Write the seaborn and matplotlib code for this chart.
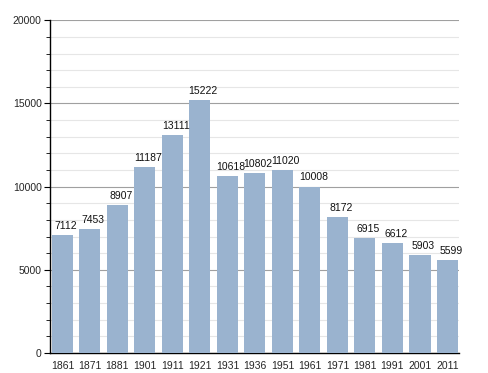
import matplotlib
matplotlib.use("Agg")
import matplotlib.pyplot as plt
import matplotlib.ticker as plticker
import seaborn as sns
import pandas as pd

# data
years = ['1861', '1871', '1881', '1901', '1911', '1921', '1931', '1936',
         '1951', '1961', '1971', '1981', '1991', '2001', '2011']
population = [7112, 7453, 8907, 11187, 13111, 15222, 10618, 10802,
              11020, 10008, 8172, 6915, 6612, 5903, 5599]

df = pd.DataFrame({'Year': years, 'Population': population})

sns.set_style("white")
plt.rcParams['font.family'] = ['Liberation Sans', 'DejaVu Sans']

fig = plt.figure(figsize=(4.88, 3.73), dpi=100)
ax = fig.add_axes([0.1025, 0.0536, 0.838, 0.892])

g = sns.barplot(data=df, x='Year', y='Population', color='#9ab3cf',
                saturation=1, width=0.77, linewidth=0, ax=ax, zorder=3)

ax.set_ylim(0, 20000)
ax.set_xlim(-0.45, len(years) - 0.58)
ax.yaxis.set_major_locator(plticker.MultipleLocator(5000))
ax.yaxis.set_minor_locator(plticker.MultipleLocator(1000))
ax.grid(axis='y', which='major', color='#a0a0a0', lw=0.8, zorder=0)
ax.grid(axis='y', which='minor', color='#e6e6e6', lw=0.8, zorder=0)
ax.set_axisbelow(True)

for s in ['top', 'right']:
    ax.spines[s].set_visible(False)
for s in ['left', 'bottom']:
    ax.spines[s].set_color('black')
    ax.spines[s].set_linewidth(1.0)

ax.tick_params(axis='y', which='major', left=True, length=4, width=0.8,
               color='black', labelsize=7.5, pad=2)
ax.tick_params(axis='y', which='minor', left=True, length=3, width=0.6,
               color='black')
ax.tick_params(axis='x', bottom=False, labelsize=7.5, pad=2)
ax.set_xlabel(None)
ax.set_ylabel(None)

for i, v in enumerate(population):
    ax.text(i + 0.12, v + 250, str(v), ha='center', va='bottom', fontsize=7.5,
            color='#111111')

fig.savefig('out.png', dpi=100)
